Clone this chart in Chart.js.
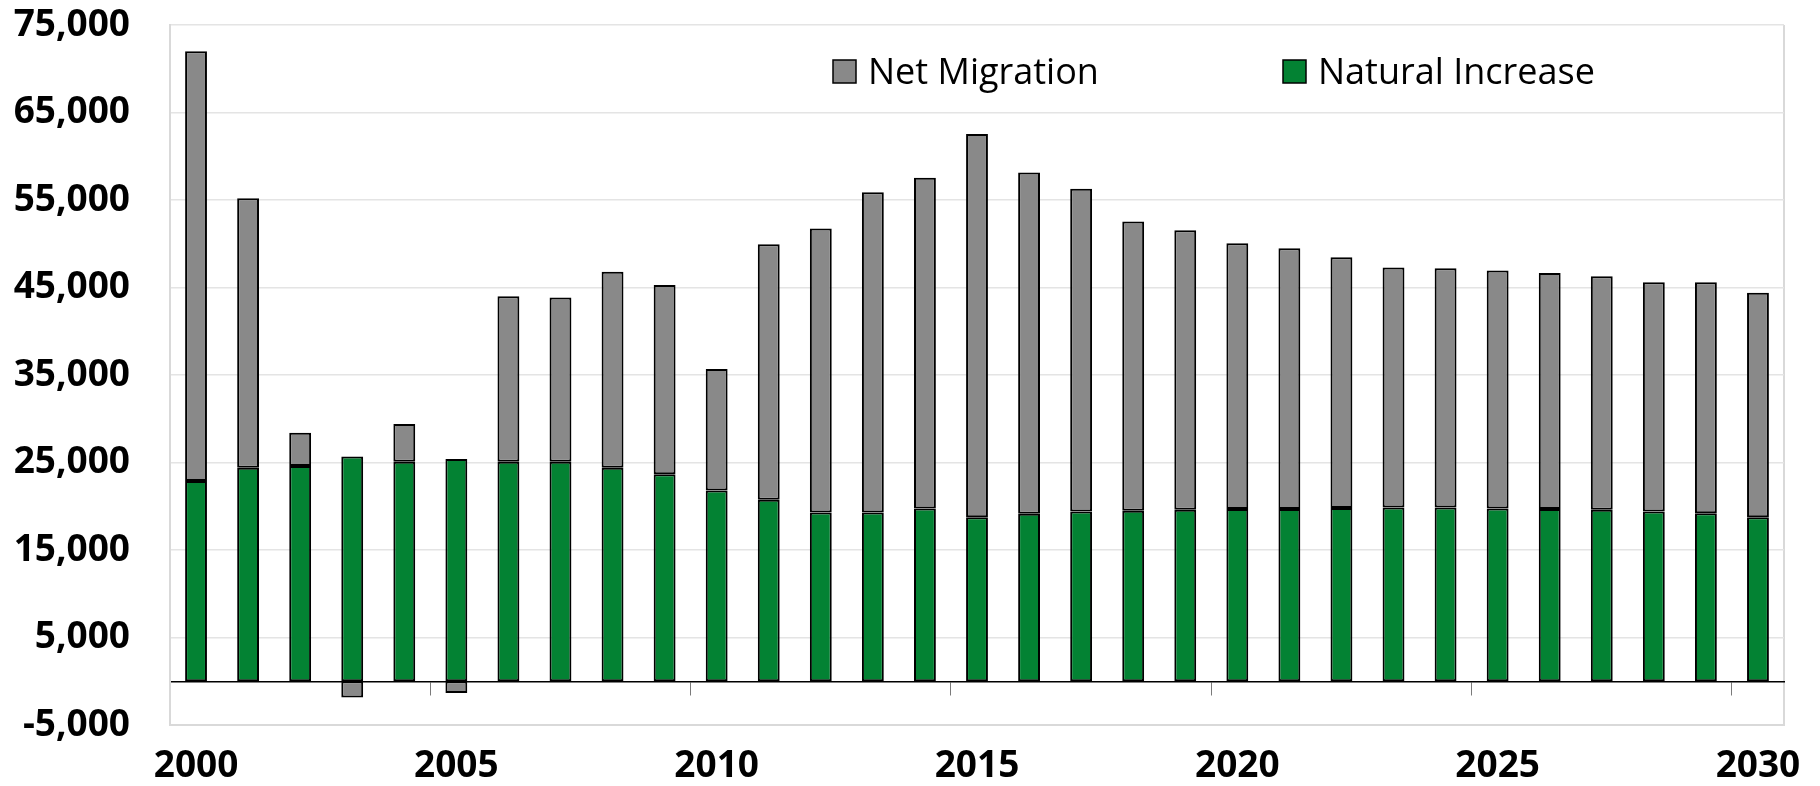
<!DOCTYPE html>
<html>
<head>
<meta charset="utf-8">
<script src="https://cdn.jsdelivr.net/npm/chart.js@4.4.1/dist/chart.umd.min.js"></script>
<style>
  html, body { margin: 0; padding: 0; background: #fff; }
  canvas { display: block; }
</style>
</head>
<body>
<canvas id="chart" width="1820" height="786"></canvas>
<script>
// values
const years = ['2000','2001','2002','2003','2004','2005','2006','2007','2008','2009',
  '2010','2011','2012','2013','2014','2015','2016','2017','2018','2019',
  '2020','2021','2022','2023','2024','2025','2026','2027','2028','2029','2030'];
const naturalIncrease = [22900, 24400, 24600, 25700, 25100, 25400, 25100, 25100, 24400, 23650,
  21800, 20750, 19300, 19300, 19750, 18750, 19150, 19400, 19500, 19600,
  19700, 19700, 19800, 19850, 19850, 19750, 19700, 19600, 19400, 19200, 18750];
const netMigration = [49100, 30800, 3800, -1850, 4300, -1350, 18900, 18750, 22400, 21650,
  13900, 29200, 32450, 36600, 37800, 43800, 39000, 36900, 33050, 31950,
  30350, 29800, 28650, 27450, 27350, 27200, 26950, 26700, 26200, 26400, 25650];
const xTickLabels = ['2000', '2005', '2010', '2015', '2020', '2025', '2030'];
const yTickValues = [-5000, 5000, 15000, 25000, 35000, 45000, 55000, 65000, 75000];

const GREEN = '#038233';
const GREY = '#898989';

// legend sits inside the plot area, like the original
const insideLegend = {
  id: 'insideLegend',
  afterDraw(chart, args, opts) {
    const ctx = chart.ctx;
    ctx.save();
    ctx.font = opts.font;
    ctx.textBaseline = 'alphabetic';
    opts.items.forEach(it => {
      const ds = chart.data.datasets[it.dataset];
      ctx.fillStyle = ds.backgroundColor;
      ctx.fillRect(it.x, opts.y, opts.box, opts.box);
      ctx.lineWidth = 1.5;
      ctx.strokeStyle = '#000';
      ctx.strokeRect(it.x, opts.y, opts.box, opts.box);
      ctx.fillStyle = '#000';
      ctx.fillText(ds.label, it.x + opts.box + 12, opts.baseline);
    });
    ctx.restore();
  }
};

const ctx = document.getElementById('chart').getContext('2d');
const chart = new Chart(ctx, {
  type: 'bar',
  data: {
    labels: years,
    datasets: [
      { label: 'Natural Increase', data: naturalIncrease, backgroundColor: GREEN,
        borderColor: '#000', borderWidth: 2, borderSkipped: false },
      { label: 'Net Migration', data: netMigration, backgroundColor: GREY,
        borderColor: '#000', borderWidth: 2, borderSkipped: false }
    ]
  },
  options: {
    responsive: false,
    animation: false,
    devicePixelRatio: 1,
    layout: { padding: { left: 10, right: 36, top: 25, bottom: 0 } },
    datasets: { bar: { categoryPercentage: 1, barPercentage: 0.42 } },
    plugins: {
      legend: { display: false },
      tooltip: { enabled: false },
      insideLegend: {
        font: '36px "Open Sans"', box: 23, y: 60, baseline: 84,
        items: [ { dataset: 1, x: 833 }, { dataset: 0, x: 1283 } ]
      }
    },
    scales: {
      x: {
        stacked: true,
        offset: true,
        grid: {
          offset: true, drawTicks: false,
          // only the closing line on the right edge of the plot
          color: c => c.index === undefined ? '#d9d9d9' : 'transparent', lineWidth: 2
        },
        border: { display: true, color: '#d9d9d9', width: 2 },
        ticks: {
          autoSkip: false, maxRotation: 0, padding: 19, color: '#000',
          font: { family: 'Open Sans', size: 37, weight: 'bold' },
          callback: (v, i) => xTickLabels.includes(years[i]) ? years[i] : ''
        },
        afterFit: s => { s.height = 61; }
      },
      // zero line with the small tick marks every five years
      x0: {
        type: 'category',
        position: { y: 0 },
        offset: true,
        grid: {
          offset: true, drawOnChartArea: false, drawTicks: true, tickLength: 13,
          color: c => (c.index !== undefined && c.index % 5 === 0) ? '#7a7a7a' : 'transparent'
        },
        border: { display: true, color: '#000', width: 1.5 },
        ticks: { display: false, autoSkip: false }
      },
      y: {
        stacked: true, min: -5000, max: 75000,
        afterBuildTicks: s => { s.ticks = yTickValues.map(v => ({ value: v })); },
        grid: { color: '#e4e4e4', lineWidth: 1.5, drawTicks: true, tickLength: 40, tickColor: 'transparent' },
        border: { display: true, color: '#d9d9d9', width: 2 },
        ticks: {
          padding: 0, color: '#000',
          font: { family: 'Open Sans', size: 37, weight: 'bold' },
          callback: v => v.toLocaleString('en-US')
        },
        afterFit: s => { s.width = 160; }
      }
    }
  },
  plugins: [insideLegend]
});
</script>
</body>
</html>
